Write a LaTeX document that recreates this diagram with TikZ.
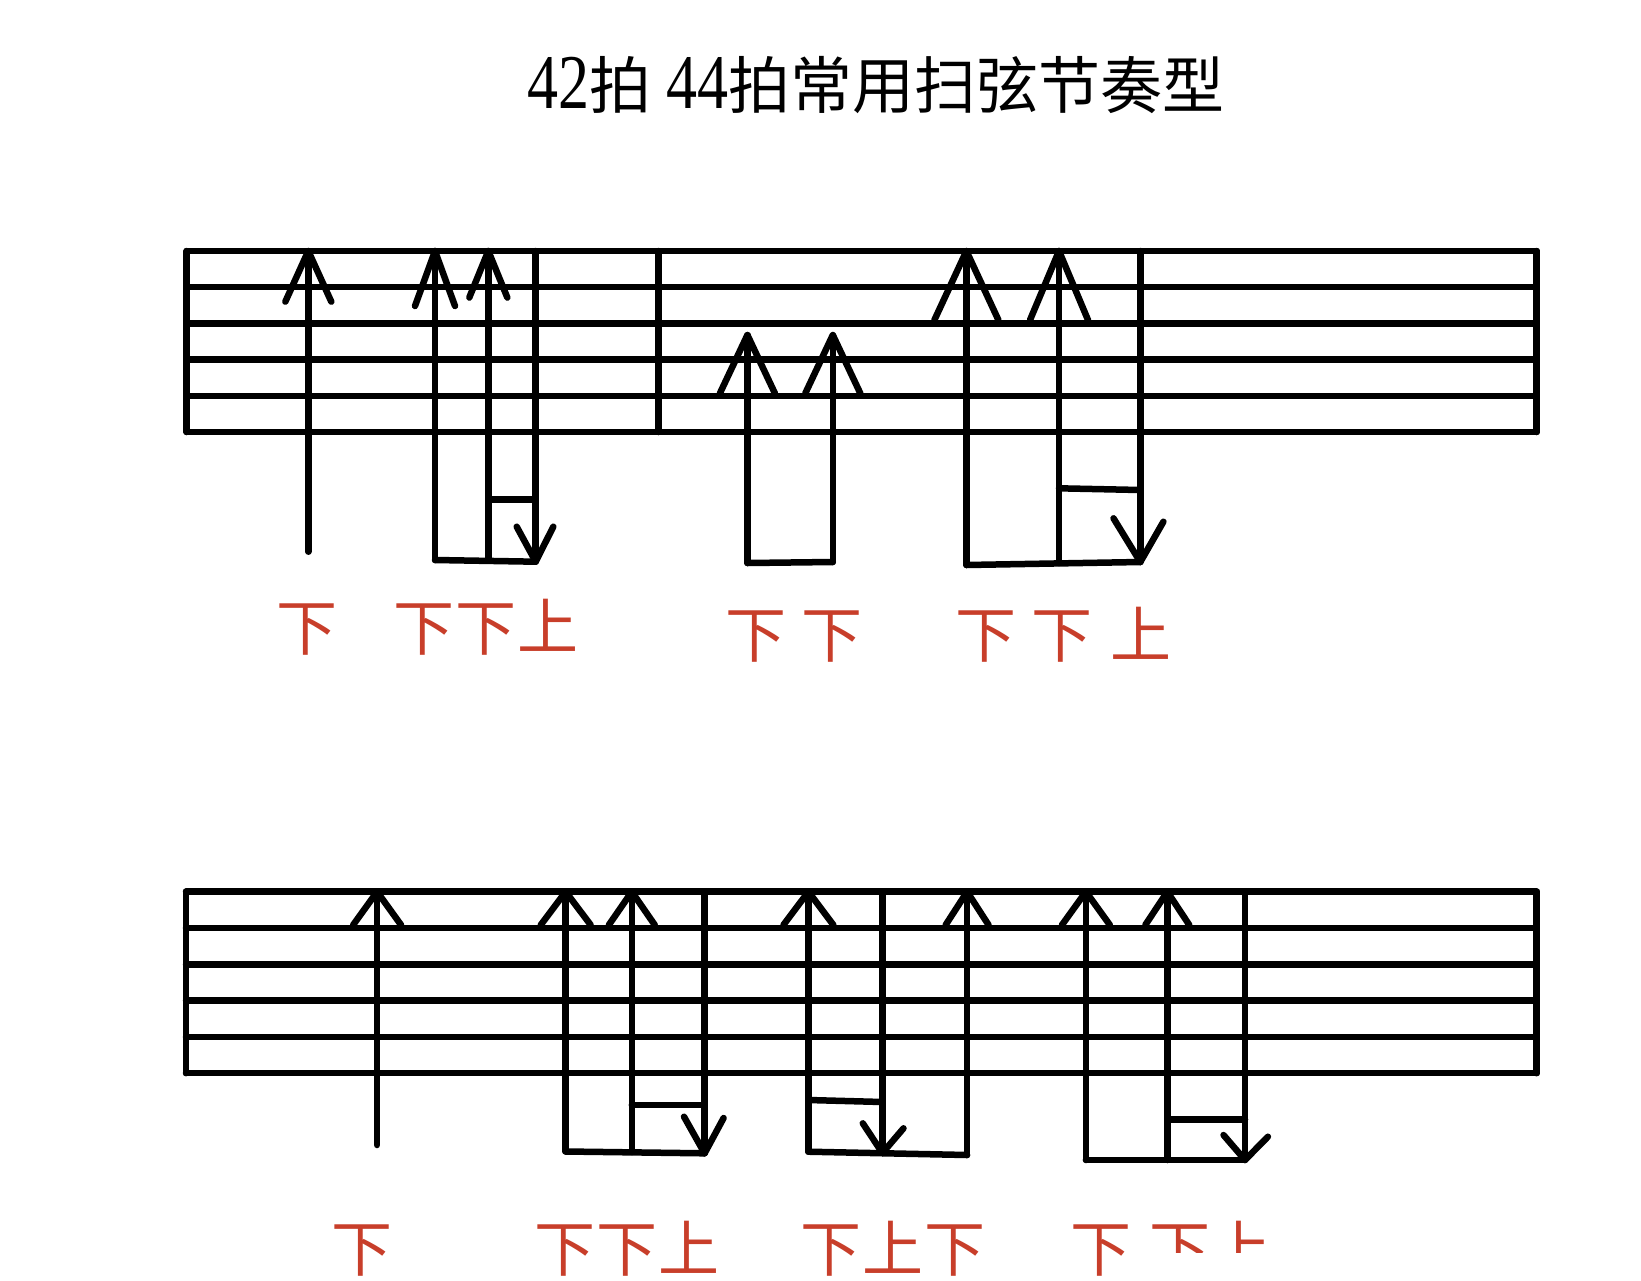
\documentclass[tikz,border=0pt]{standalone}
\usepackage{fontspec}
\setmainfont{Liberation Serif}
\newfontfamily\cjk{Noto Sans CJK SC}
\definecolor{labred}{RGB}{200,62,42}
\newcommand\upstrum[4]{\draw[ink] ({#1-#3},#4) -- (#1,#2) -- ({#1+#3},#4);}
\newcommand\downtip[5]{\draw[ink] (#2,#3) -- (#1) -- (#4,#5);}
\begin{document}
\begin{tikzpicture}[x=1pt,y=-1pt,
  ink/.style={line width=6.5pt, line cap=round, line join=round, black},
  lab/.style={inner sep=0pt, text=labred, font={\cjk\fontsize{61pt}{61pt}\selectfont}},
  ttl/.style={inner sep=0pt, anchor=base west, font={\fontsize{62pt}{62pt}\selectfont}}]
\useasboundingbox (0,0) rectangle (1641,1280);
\fill[white] (0,0) rectangle (1641,1280);

% ---------------- title ----------------
\node[ttl] (t1) at (527,108) {\scalebox{1}[1.25]{42}{\cjk 拍}};
\node[ttl] (t2) at (666,108) {\scalebox{1}[1.25]{44}{\cjk 拍常用扫弦节奏型}};

% ---------------- top staff ----------------
\foreach \yy in {251,287.2,323.4,359.6,395.8,432}
  \draw[ink] (186.7,\yy) -- (1536.7,\yy);
\draw[ink] (186.7,251) -- (186.7,432);
\draw[ink] (1536.7,251) -- (1536.7,432);
\draw[ink] (658.5,251) -- (658.5,432);

% measure 1
\draw[ink] (308.3,251) -- (308.3,551.7);
\upstrum{308.3}{251}{23}{301.7}
\draw[ink] (435,251) -- (435,560);
\upstrum{435}{251}{20}{306}
\draw[ink] (488.3,251) -- (488.3,559);
\upstrum{488.3}{251}{19}{297.5}
\coordinate (d1) at (535.7,561.7);
\draw[ink] (535.7,251) -- (d1);
\downtip{d1}{516.7}{526.7}{553.3}{526.7}
\draw[ink] (435,560) -- (d1);
\draw[ink] (488.3,499.3) -- (535.7,499.3);

% measure 2
\draw[ink] (747.4,335) -- (747.4,563);
\upstrum{747.4}{335}{27.5}{393.3}
\draw[ink] (832.8,335) -- (832.8,562);
\upstrum{832.8}{335}{27.5}{393.3}
\draw[ink] (747.4,563) -- (832.8,562);

\draw[ink] (966.4,251) -- (966.4,565);
\upstrum{966.4}{251}{32}{320}
\draw[ink] (1059,251) -- (1059,563);
\upstrum{1059}{251}{29}{320}
\coordinate (d2) at (1140.3,562);
\draw[ink] (1140.3,251) -- (d2);
\downtip{d2}{1113.5}{518.3}{1163.4}{521.7}
\draw[ink] (966.4,565) -- (d2);
\draw[ink] (1059,488.3) -- (1140.3,490);

% top labels
\node[lab] (a1) at (306.5,629.5) {下};
\node[lab] (a2) at (424,629.5) {下};
\node[lab] (a3) at (485.5,629.5) {下};
\node[lab] (a4) at (547.5,625.5) {上};
\node[lab] (a5) at (756,636.5) {下};
\node[lab] (a6) at (831.7,636.5) {下};
\node[lab] (a7) at (986.3,636.5) {下};
\node[lab] (a8) at (1062,636.5) {下};
\node[lab] (a9) at (1140.8,633.4) {上};

% ---------------- bottom staff ----------------
\foreach \yy in {891.7,928,964.3,1000.6,1036.9,1073.2}
  \draw[ink] (186,\yy) -- (1536.7,\yy);
\draw[ink] (186,891.7) -- (186,1073.2);
\draw[ink] (1536.7,891.7) -- (1536.7,1073.2);

\draw[ink] (377.1,891.7) -- (377.1,1145);
\upstrum{377.1}{891.7}{24}{925}

\draw[ink] (565.7,891.7) -- (565.7,1151.5);
\upstrum{565.7}{891.7}{25}{925}
\draw[ink] (631.8,891.7) -- (631.8,1152);
\upstrum{631.8}{891.7}{23}{925}
\coordinate (d3) at (704.6,1153.3);
\draw[ink] (704.6,891.7) -- (d3);
\downtip{d3}{684}{1116.7}{723.6}{1118}
\draw[ink] (565.7,1151.5) -- (d3);
\draw[ink] (631.8,1105) -- (704.6,1105);

\draw[ink] (808.4,891.7) -- (808.4,1151.7);
\upstrum{808.4}{891.7}{25}{925}
\coordinate (d4) at (882.4,1153);
\draw[ink] (882.4,891.7) -- (d4);
\downtip{d4}{862.8}{1123.3}{903.5}{1128.3}
\draw[ink] (808.4,1100) -- (882.4,1102);
\draw[ink] (967.1,891.7) -- (967.1,1155);
\upstrum{967.1}{891.7}{21.5}{925}
\draw[ink] (808.4,1151.7) -- (967.1,1155);

\draw[ink] (1085.9,891.7) -- (1085.9,1160);
\upstrum{1085.9}{891.7}{24}{925}
\draw[ink] (1167.3,891.7) -- (1167.3,1160);
\upstrum{1167.3}{891.7}{22}{925}
\coordinate (d5) at (1245,1160);
\draw[ink] (1245,891.7) -- (d5);
\downtip{d5}{1223.5}{1135}{1267.9}{1136.7}
\draw[ink] (1085.9,1160) -- (d5);
\draw[ink] (1167.3,1119.3) -- (1245,1119.3);

% bottom labels
\node[lab] (b1) at (362,1250.5) {下};
\node[lab] (b2) at (564.5,1250.5) {下};
\node[lab] (b3) at (627,1250.5) {下};
\node[lab] (b4) at (689,1247) {上};
\node[lab] (b5) at (831,1250.5) {下};
\node[lab] (b6) at (893,1247) {上};
\node[lab] (b7) at (955,1250.5) {下};
\node[lab] (b8) at (1100.5,1250.5) {下};
\node[lab] (b9) at (1179.5,1250.5) {下};
\node[lab] (b10) at (1241,1247) {上};
\fill[white] (1140,1253) rectangle (1330,1280);
\end{tikzpicture}
\end{document}
